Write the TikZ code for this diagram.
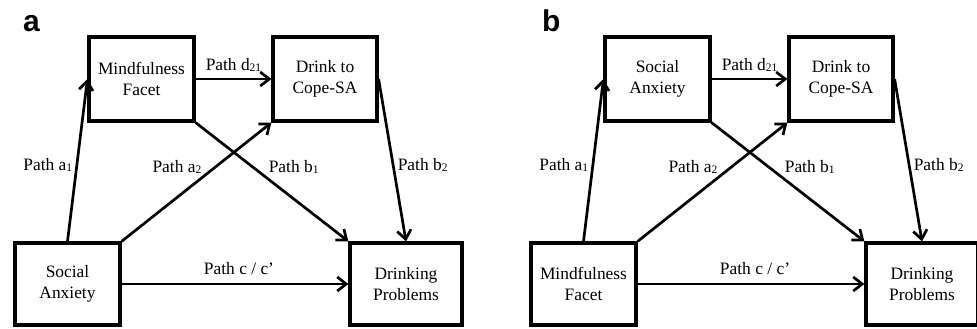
\documentclass[tikz,border=0pt]{standalone}
\usepackage{fontspec}
\setmainfont{Liberation Serif}
\newfontfamily\panelfont{Liberation Sans}
\usetikzlibrary{arrows.meta,positioning}
\newcommand\low[1]{\raisebox{-1pt}{\fontsize{11.5}{11.5}\selectfont #1}}
\tikzset{>={Straight Barb[length=9pt,width=14pt]},
  box/.style={draw,line width=3.2pt,align=center,inner sep=0pt,minimum width=105pt,minimum height=84pt,font=\fontsize{17.4}{21}\selectfont},
  link/.style={->,line width=2.7pt},
  lbl/.style={font=\fontsize{17.4}{21}\selectfont},
  panel/.style={anchor=base west,inner sep=0pt,font=\fontsize{30}{30}\panelfont\bfseries}}

\begin{document}
\begin{tikzpicture}[x=1pt,y=-1pt]
    \useasboundingbox (0,0) rectangle (977,329);
    \begin{scope}
        \node[panel] (taga) at (23,32) {a};
        \node[box] (Ma) at (141.5,79) {Mindfulness\\Facet};
        \node[box,minimum width=104pt] (Da) at (325,79) {Drink to\\Cope-SA};
        \node[box,minimum height=82pt] (Sa) at (67.5,284) {Social\\Anxiety};
        \node[box,minimum width=112pt,minimum height=82pt] (Pa) at (406,284) {Drinking\\Problems};
        \draw[link] (Sa.north) -- node[lbl,pos=.47,left] {Path a\low{1}} (Ma.west);
        \draw[link] (Sa.north east) -- node[lbl,pos=.63,left=10pt] {Path a\low{2}} (Da.south west);
        \draw[link] (Ma.south east) -- node[lbl,pos=.37,right=12pt] {Path b\low{1}} (Pa.north west);
        \draw[link] (Da.east) -- node[lbl,pos=.53,right] {Path b\low{2}} (Pa.north);
        \draw[link] (Ma.east) -- node[lbl,above=3pt] {Path d\low{21}} (Da.west);
        \draw[link] (Sa.east) -- node[lbl,above=5pt,xshift=4pt] {Path c / c’} (Pa.west);
    \end{scope}
    \begin{scope}[xshift=516pt]
        \node[panel] (tagb) at (26,32) {b};
        \node[box] (Sb) at (141.5,79) {Social\\Anxiety};
        \node[box,minimum width=104pt] (Db) at (325,79) {Drink to\\Cope-SA};
        \node[box,minimum height=82pt] (Mb) at (67.5,284) {Mindfulness\\Facet};
        \node[box,minimum width=112pt,minimum height=82pt] (Pb) at (406,284) {Drinking\\Problems};
        \draw[link] (Mb.north) -- node[lbl,pos=.47,left] {Path a\low{1}} (Sb.west);
        \draw[link] (Mb.north east) -- node[lbl,pos=.63,left=10pt] {Path a\low{2}} (Db.south west);
        \draw[link] (Sb.south east) -- node[lbl,pos=.37,right=12pt] {Path b\low{1}} (Pb.north west);
        \draw[link] (Db.east) -- node[lbl,pos=.53,right] {Path b\low{2}} (Pb.north);
        \draw[link] (Sb.east) -- node[lbl,above=3pt] {Path d\low{21}} (Db.west);
        \draw[link] (Mb.east) -- node[lbl,above=5pt,xshift=4pt] {Path c / c’} (Pb.west);
    \end{scope}
\end{tikzpicture}
\end{document}
